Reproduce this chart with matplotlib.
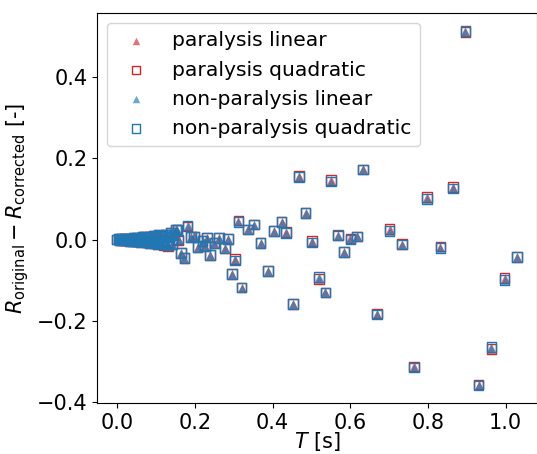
import numpy as np
import matplotlib
matplotlib.use("Agg")
import matplotlib.pyplot as plt

# --------------------------------------------------
# Data (T in s, R difference in -)
# --------------------------------------------------
# dense group at short periods
t_short = [0.000, 0.003, 0.006, 0.009, 0.012, 0.016, 0.019, 0.022, 0.026, 0.029,
           0.033, 0.036, 0.040, 0.043, 0.047, 0.051, 0.054, 0.058, 0.062, 0.065,
           0.069, 0.072, 0.076, 0.080, 0.083, 0.087, 0.091, 0.094, 0.098, 0.101,
           0.105, 0.108, 0.112, 0.115, 0.119, 0.121, 0.124, 0.128, 0.130, 0.134,
           0.138, 0.141, 0.145, 0.151, 0.158]
r_short_np = [0.000, 0.001, -0.001, 0.001, -0.001, 0.002, -0.002, 0.001, -0.002, 0.003,
              -0.003, 0.002, -0.004, 0.004, -0.003, 0.005, -0.005, 0.003, -0.006, 0.006,
              -0.004, 0.007, -0.007, 0.005, -0.008, 0.008, -0.006, 0.010, -0.009, 0.004,
              -0.010, 0.011, -0.005, 0.009, -0.012, 0.008, 0.013, -0.008, -0.014, 0.005,
              0.017, -0.011, 0.012, 0.025, 0.000]
r_short_par = [0.000, 0.001, -0.001, 0.001, -0.001, 0.002, -0.002, 0.001, -0.002, 0.003,
               -0.003, 0.002, -0.004, 0.004, -0.003, 0.005, -0.005, 0.003, -0.006, 0.006,
               -0.004, 0.007, -0.007, 0.005, -0.008, 0.008, -0.006, 0.010, -0.009, 0.004,
               -0.011, 0.011, -0.005, 0.009, -0.013, 0.008, 0.013, -0.008, -0.016, 0.005,
               0.017, -0.011, 0.012, 0.023, -0.002]

# scattered points at longer periods
t_long = [0.155, 0.164, 0.173, 0.181, 0.190, 0.198, 0.207, 0.220, 0.226, 0.231,
          0.239, 0.250, 0.262, 0.277, 0.285, 0.296, 0.303, 0.312, 0.320, 0.337,
          0.352, 0.369, 0.388, 0.403, 0.423, 0.435, 0.452, 0.468, 0.485, 0.502,
          0.519, 0.536, 0.551, 0.568, 0.583, 0.600, 0.617, 0.633, 0.668, 0.701,
          0.733, 0.764, 0.798, 0.832, 0.865, 0.896, 0.930, 0.963, 0.997, 1.029]
r_long_np = [0.023, -0.033, -0.045, 0.035, 0.007, 0.008, -0.018, -0.004, -0.016, 0.005,
             -0.038, -0.008, 0.004, -0.021, 0.002, -0.084, -0.051, 0.043, -0.118, 0.025,
             0.037, -0.008, -0.078, 0.021, 0.044, 0.016, -0.159, 0.154, 0.066, -0.007,
             -0.092, -0.130, 0.143, 0.012, -0.030, 0.000, 0.008, 0.173, -0.184, 0.022,
             -0.012, -0.315, 0.100, -0.020, 0.126, 0.514, -0.359, -0.265, -0.100, -0.043]
r_long_par = [0.023, -0.033, -0.045, 0.032, 0.007, 0.008, -0.018, -0.004, -0.016, 0.005,
              -0.038, -0.008, 0.004, -0.021, 0.002, -0.084, -0.048, 0.047, -0.118, 0.025,
              0.037, -0.008, -0.078, 0.021, 0.044, 0.019, -0.159, 0.156, 0.066, -0.004,
              -0.097, -0.130, 0.147, 0.010, -0.030, 0.003, 0.008, 0.173, -0.182, 0.026,
              -0.010, -0.312, 0.105, -0.017, 0.130, 0.511, -0.357, -0.270, -0.095, -0.043]

T = np.array(t_short + t_long)
r_paralysis_linear = np.array(r_short_par + r_long_par)
r_paralysis_quadratic = np.array(r_short_par + r_long_par)
r_nonparalysis_linear = np.array(r_short_np + r_long_np)
r_nonparalysis_quadratic = np.array(r_short_np + r_long_np)

# --------------------------------------------------
# Plot
# --------------------------------------------------
fig = plt.figure(figsize=(5.37, 4.54), dpi=100)
ax = fig.add_axes([0.181, 0.112, 0.819, 0.859])

ax.scatter(T, r_paralysis_linear, marker="^", s=40, color="tab:red", alpha=0.65,
           linewidths=0, label="paralysis linear")
ax.scatter(T, r_paralysis_quadratic, marker="s", s=48, facecolors="none",
           edgecolors="tab:red", linewidths=1.0, label="paralysis quadratic")
ax.scatter(T, r_nonparalysis_linear, marker="^", s=40, color="tab:blue", alpha=0.65,
           linewidths=0, label="non-paralysis linear")
ax.scatter(T, r_nonparalysis_quadratic, marker="s", s=48, facecolors="none",
           edgecolors="tab:blue", linewidths=1.0, label="non-paralysis quadratic")

ax.set_xlabel(r"$T$ [s]", fontsize=15, labelpad=-2)
ax.set_ylabel(r"$R_{\mathrm{original}} - R_{\mathrm{corrected}}$ [-]", fontsize=15)
ax.tick_params(labelsize=15)
ax.set_yticks([-0.4, -0.2, 0.0, 0.2, 0.4])
ax.legend(loc="upper left", fontsize=14.6, markerscale=0.85, handletextpad=0.8)

fig.savefig("out.png", dpi=100)
